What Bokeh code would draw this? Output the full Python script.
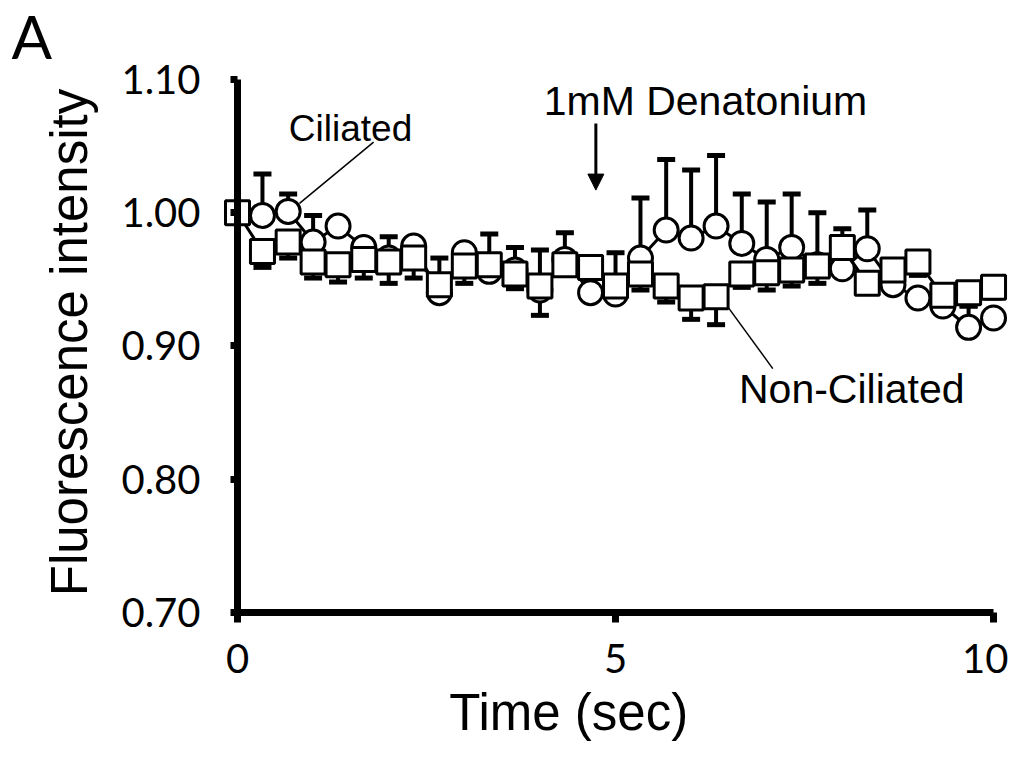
import math
from bokeh.plotting import figure
from bokeh.models import (Range1d, FixedTicker, NumeralTickFormatter, Label, Arrow, LinearAxis,
                          NormalHead, Whisker, TeeHead, ColumnDataSource)
from bokeh.embed import file_html
from bokeh.resources import INLINE

# ---------------- data ----------------
time_sec = [0.00, 0.33, 0.67, 1.00, 1.33, 1.67, 2.00, 2.33, 2.67, 3.00, 3.33,
            3.67, 4.00, 4.33, 4.67, 5.00, 5.33, 5.67, 6.00, 6.33, 6.67,
            7.00, 7.33, 7.67, 8.00, 8.33, 8.67, 9.00, 9.33, 9.67, 10.00]

ciliated = [1.000, 0.998, 1.001, 0.978, 0.990, 0.974, 0.966, 0.975, 0.940, 0.970, 0.956,
            0.957, 0.942, 0.965, 0.940, 0.939, 0.966, 0.987, 0.981, 0.990, 0.977,
            0.965, 0.974, 0.961, 0.958, 0.973, 0.946, 0.936, 0.930, 0.914, 0.921]
ciliated_err = [0.004, 0.031, 0.013, 0.020, 0.004, 0.006, 0.016, 0.004, 0.026, 0.004, 0.028,
                0.017, 0.030, 0.020, 0.004, 0.031, 0.045, 0.053, 0.051, 0.053, 0.037,
                0.043, 0.040, 0.039, 0.030, 0.029, 0.004, 0.004, 0.004, 0.016, 0.004]

non_ciliated = [1.000, 0.971, 0.978, 0.963, 0.961, 0.965, 0.963, 0.966, 0.946, 0.960, 0.961,
                0.954, 0.945, 0.961, 0.959, 0.945, 0.954, 0.945, 0.936, 0.937, 0.954,
                0.955, 0.957, 0.960, 0.974, 0.947, 0.957, 0.963, 0.938, 0.940, 0.944]
non_ciliated_err = [0.004, 0.012, 0.012, 0.012, 0.013, 0.014, 0.016, 0.015, 0.004, 0.013, 0.004,
                    0.011, 0.022, 0.004, 0.004, 0.010, 0.012, 0.012, 0.016, 0.021, 0.010,
                    0.013, 0.012, 0.013, 0.004, 0.004, 0.004, 0.010, 0.004, 0.010, 0.008]

x_ticks = [0, 5, 10]
y_ticks = [0.70, 0.80, 0.90, 1.00, 1.10]

# annotation anchors (data units)
ciliated_leader_x = [0.82, 1.80]
ciliated_leader_y = [1.007, 1.053]
nonciliated_leader_x = [6.49, 7.08]
nonciliated_leader_y = [0.929, 0.883]
stim_time = 4.74

# ---------------- figure ----------------
p = figure(width=1008, height=752, output_backend="svg", toolbar_location=None,
           x_range=Range1d(-3.135, 10.198), y_range=Range1d(0.5949, 1.1593),
           x_axis_location=None, y_axis_location=None,
           min_border_left=0, min_border_right=0, min_border_top=0, min_border_bottom=0)
p.outline_line_color = None
p.xgrid.visible = False
p.ygrid.visible = False
p.background_fill_color = "white"

# axes (placed at data locations x=0 and y=0.70)
xa = LinearAxis(fixed_location=0.70, ticker=FixedTicker(ticks=x_ticks), bounds=(0, 10))
xa.axis_line_width = 7
xa.axis_line_color = "black"
xa.major_tick_line_width = 7
xa.major_tick_in = 0
xa.major_tick_out = 10
xa.minor_tick_line_color = None
xa.major_label_text_font = "Lato"
xa.major_label_text_font_size = "40px"
xa.major_label_text_color = "black"
xa.major_label_standoff = 22
p.add_layout(xa, "below")

ya = LinearAxis(fixed_location=0, ticker=FixedTicker(ticks=y_ticks), bounds=(0.70, 1.10),
                formatter=NumeralTickFormatter(format="0.00"))
ya.axis_line_width = 7
ya.axis_line_color = "black"
ya.major_tick_line_width = 7
ya.major_tick_in = 0
ya.major_tick_out = 7
ya.minor_tick_line_color = None
ya.major_label_text_font = "Lato"
ya.major_label_text_font_size = "40px"
ya.major_label_text_color = "black"
ya.major_label_standoff = 30
p.add_layout(ya, "left")

# ---------------- series ----------------
cil_src = ColumnDataSource(dict(x=time_sec, y=ciliated,
                                up=[v + e for v, e in zip(ciliated, ciliated_err)]))
non_src = ColumnDataSource(dict(x=time_sec, y=non_ciliated,
                                lo=[v - e for v, e in zip(non_ciliated, non_ciliated_err)]))

p.line("x", "y", source=cil_src, line_color="black", line_width=3)
p.line("x", "y", source=non_src, line_color="black", line_width=3)

cw = Whisker(source=cil_src, base="x", lower="y", upper="up", line_width=4, line_color="black",
             upper_head=TeeHead(size=18, line_width=5, line_color="black"), lower_head=None)
p.add_layout(cw)
p.scatter("x", "y", source=cil_src, marker="circle", size=24, fill_color="white",
          line_color="black", line_width=3)

nw = Whisker(source=non_src, base="x", lower="lo", upper="y", line_width=4, line_color="black",
             lower_head=TeeHead(size=18, line_width=5, line_color="black"), upper_head=None)
p.add_layout(nw)
p.scatter("x", "y", source=non_src, marker="square", size=24, fill_color="white",
          line_color="black", line_width=3)

# ---------------- annotations ----------------
p.line(ciliated_leader_x, ciliated_leader_y, line_color="black", line_width=1.5)
p.line(nonciliated_leader_x, nonciliated_leader_y, line_color="black", line_width=1.5)

p.add_layout(Arrow(x_start=stim_time, y_start=1.067, x_end=stim_time, y_end=1.017,
                   line_width=3, line_color="black",
                   end=NormalHead(size=16, fill_color="black", line_color="black")))

def lab(x, y, text, font, size, angle=0.0):
    p.add_layout(Label(x=x, y=y, text=text, text_font=font, text_font_size=size,
                       text_align="center", text_baseline="middle", angle=angle,
                       text_color="black"))

lab(1.495, 1.063, "Ciliated", "Liberation Sans", "37px")
lab(6.19, 1.0835, "1mM Denatonium", "Liberation Sans", "41px")
lab(8.125, 0.868, "Non-Ciliated", "Liberation Sans", "41px")
lab(-2.72, 1.133, "A", "Lato", "60px")
lab(-2.223, 0.9026, "Fluorescence intensity", "Liberation Sans", "51px", angle=math.pi / 2)
lab(4.38, 0.625, "Time (sec)", "Liberation Sans", "51px")

open("out.html", "w").write(file_html(p, INLINE))
